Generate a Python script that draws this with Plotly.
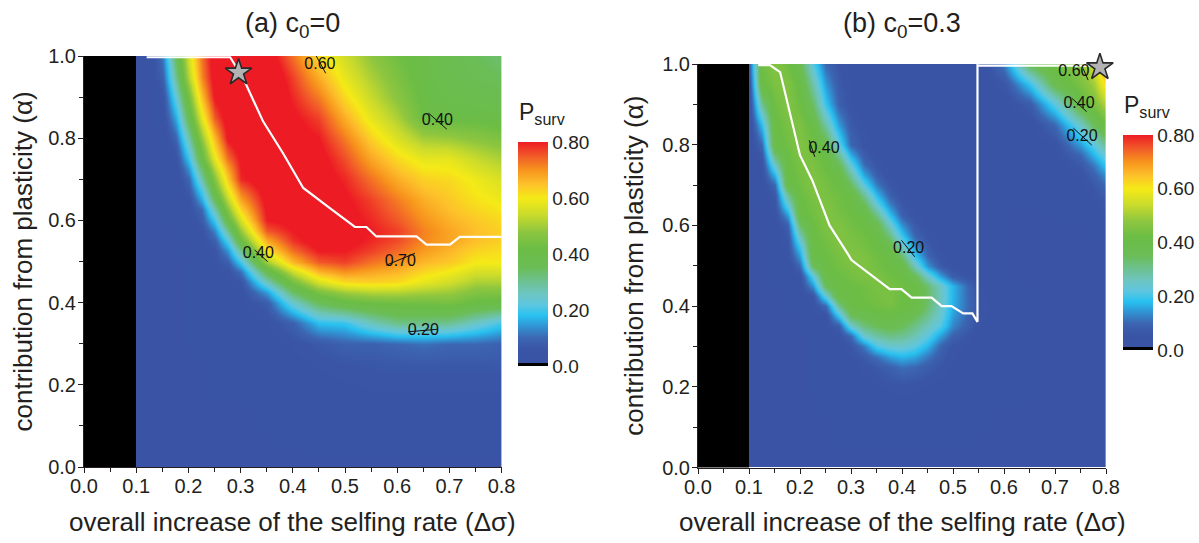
import plotly.graph_objects as go

# ---------------- data ----------------
# panel (a) c0 = 0
alpha_a = [0.0, 0.1, 0.2, 0.25, 0.3, 0.35, 0.4, 0.425, 0.45, 0.475, 0.5, 0.525, 0.55, 0.575, 0.6,
           0.625, 0.65, 0.675, 0.7, 0.725, 0.75, 0.775, 0.8, 0.85, 0.9, 0.95, 1.0]
dsig_a = [0.10, 0.125, 0.15, 0.175, 0.20, 0.225, 0.25, 0.275, 0.30, 0.35, 0.40, 0.45, 0.50, 0.55, 0.60, 0.65, 0.70, 0.75, 0.80]
psurv_a = [
    [0.015, 0.02, 0.02, 0.02, 0.02, 0.02, 0.02, 0.02, 0.02, 0.02, 0.02, 0.02, 0.02, 0.02, 0.02, 0.02, 0.02, 0.02, 0.02],
    [0.015, 0.02, 0.02, 0.02, 0.02, 0.02, 0.02, 0.02, 0.02, 0.025, 0.025, 0.03, 0.03, 0.03, 0.03, 0.03, 0.03, 0.03, 0.03],
    [0.015, 0.02, 0.02, 0.02, 0.02, 0.025, 0.025, 0.025, 0.025, 0.03, 0.035, 0.04, 0.045, 0.05, 0.05, 0.05, 0.05, 0.05, 0.05],
    [0.015, 0.02, 0.02, 0.02, 0.02, 0.025, 0.025, 0.03, 0.03, 0.03, 0.04, 0.05, 0.06, 0.065, 0.07, 0.07, 0.07, 0.07, 0.07],
    [0.015, 0.02, 0.02, 0.02, 0.025, 0.03, 0.03, 0.03, 0.03, 0.035, 0.05, 0.07, 0.09, 0.09, 0.10, 0.11, 0.10, 0.10, 0.09],
    [0.015, 0.02, 0.02, 0.02, 0.025, 0.03, 0.03, 0.03, 0.035, 0.045, 0.09, 0.18, 0.19, 0.26, 0.31, 0.31, 0.30, 0.25, 0.20],
    [0.015, 0.02, 0.02, 0.02, 0.025, 0.03, 0.035, 0.035, 0.04, 0.08, 0.24, 0.35, 0.40, 0.42, 0.43, 0.43, 0.44, 0.41, 0.40],
    [0.015, 0.02, 0.02, 0.02, 0.025, 0.03, 0.035, 0.04, 0.045, 0.15, 0.34, 0.45, 0.50, 0.52, 0.52, 0.505, 0.495, 0.46, 0.455],
    [0.015, 0.02, 0.02, 0.02, 0.025, 0.035, 0.04, 0.045, 0.06, 0.26, 0.44, 0.56, 0.62, 0.63, 0.62, 0.58, 0.55, 0.51, 0.51],
    [0.015, 0.02, 0.02, 0.02, 0.025, 0.035, 0.045, 0.05, 0.11, 0.37, 0.54, 0.66, 0.70, 0.68, 0.66, 0.62, 0.595, 0.555, 0.555],
    [0.015, 0.02, 0.02, 0.02, 0.025, 0.035, 0.05, 0.087, 0.20, 0.50, 0.66, 0.75, 0.77, 0.73, 0.70, 0.66, 0.64, 0.60, 0.60],
    [0.015, 0.02, 0.02, 0.025, 0.03, 0.035, 0.06, 0.14, 0.30, 0.60, 0.73, 0.80, 0.80, 0.77, 0.735, 0.69, 0.66, 0.625, 0.615],
    [0.015, 0.02, 0.02, 0.02, 0.03, 0.045, 0.087, 0.21, 0.41, 0.67, 0.78, 0.83, 0.82, 0.79, 0.76, 0.71, 0.68, 0.65, 0.63],
    [0.015, 0.02, 0.02, 0.025, 0.03, 0.05, 0.13, 0.30, 0.485, 0.75, 0.80, 0.83, 0.825, 0.80, 0.77, 0.715, 0.68, 0.65, 0.63],
    [0.015, 0.02, 0.025, 0.025, 0.035, 0.078, 0.20, 0.40, 0.56, 0.80, 0.82, 0.83, 0.82, 0.79, 0.75, 0.70, 0.665, 0.64, 0.62],
    [0.015, 0.02, 0.025, 0.03, 0.045, 0.10, 0.27, 0.465, 0.625, 0.81, 0.83, 0.835, 0.815, 0.78, 0.735, 0.685, 0.65, 0.625, 0.605],
    [0.015, 0.02, 0.025, 0.03, 0.05, 0.16, 0.35, 0.53, 0.68, 0.82, 0.84, 0.84, 0.81, 0.77, 0.72, 0.67, 0.64, 0.61, 0.59],
    [0.015, 0.02, 0.025, 0.03, 0.075, 0.21, 0.415, 0.585, 0.73, 0.83, 0.845, 0.835, 0.80, 0.75, 0.695, 0.65, 0.63, 0.60, 0.575],
    [0.015, 0.02, 0.025, 0.035, 0.10, 0.28, 0.47, 0.64, 0.79, 0.84, 0.85, 0.83, 0.79, 0.73, 0.67, 0.63, 0.62, 0.59, 0.56],
    [0.015, 0.02, 0.025, 0.04, 0.14, 0.335, 0.52, 0.68, 0.80, 0.845, 0.85, 0.825, 0.775, 0.705, 0.645, 0.605, 0.60, 0.565, 0.535],
    [0.015, 0.02, 0.03, 0.05, 0.19, 0.40, 0.58, 0.73, 0.81, 0.85, 0.845, 0.82, 0.76, 0.68, 0.62, 0.58, 0.58, 0.54, 0.51],
    [0.015, 0.02, 0.03, 0.07, 0.235, 0.44, 0.625, 0.77, 0.83, 0.855, 0.84, 0.81, 0.74, 0.655, 0.59, 0.54, 0.535, 0.505, 0.48],
    [0.015, 0.02, 0.03, 0.095, 0.28, 0.485, 0.66, 0.81, 0.84, 0.86, 0.83, 0.80, 0.72, 0.63, 0.56, 0.50, 0.49, 0.47, 0.45],
    [0.015, 0.02, 0.04, 0.16, 0.37, 0.575, 0.75, 0.83, 0.86, 0.87, 0.81, 0.77, 0.67, 0.58, 0.51, 0.42, 0.41, 0.41, 0.40],
    [0.015, 0.02, 0.055, 0.23, 0.44, 0.65, 0.81, 0.85, 0.87, 0.87, 0.79, 0.72, 0.62, 0.54, 0.47, 0.41, 0.39, 0.38, 0.37],
    [0.015, 0.025, 0.09, 0.30, 0.52, 0.71, 0.83, 0.86, 0.88, 0.86, 0.77, 0.67, 0.58, 0.51, 0.45, 0.40, 0.38, 0.36, 0.35],
    [0.015, 0.03, 0.12, 0.35, 0.56, 0.73, 0.84, 0.86, 0.87, 0.84, 0.73, 0.62, 0.55, 0.48, 0.43, 0.40, 0.37, 0.35, 0.33],
]

# panel (b) c0 = 0.3
alpha_b = [0.0, 0.1, 0.2, 0.25, 0.275, 0.3, 0.325, 0.35, 0.375, 0.4, 0.425, 0.45, 0.475, 0.5, 0.525,
           0.55, 0.575, 0.6, 0.625, 0.65, 0.675, 0.7, 0.725, 0.75, 0.775, 0.8, 0.85, 0.9, 0.95, 1.0]
dsig_b = [0.10, 0.125, 0.15, 0.175, 0.20, 0.225, 0.25, 0.275, 0.30, 0.325, 0.35, 0.375, 0.40, 0.425, 0.45, 0.475, 0.50, 0.55, 0.60, 0.65, 0.70, 0.75, 0.775, 0.80]
psurv_b = [
    [0.02, 0.02, 0.02, 0.02, 0.02, 0.02, 0.02, 0.02, 0.02, 0.02, 0.02, 0.02, 0.02, 0.02, 0.02, 0.02, 0.02, 0.02, 0.02, 0.02, 0.02, 0.02, 0.02, 0.02],
    [0.02, 0.02, 0.02, 0.02, 0.02, 0.02, 0.025, 0.025, 0.025, 0.025, 0.025, 0.025, 0.025, 0.025, 0.025, 0.025, 0.025, 0.025, 0.02, 0.02, 0.02, 0.02, 0.02, 0.02],
    [0.02, 0.02, 0.02, 0.02, 0.02, 0.025, 0.025, 0.03, 0.03, 0.035, 0.045, 0.05, 0.055, 0.05, 0.045, 0.04, 0.035, 0.03, 0.025, 0.025, 0.02, 0.02, 0.02, 0.02],
    [0.02, 0.02, 0.02, 0.02, 0.02, 0.025, 0.025, 0.03, 0.04, 0.055, 0.07, 0.09, 0.11, 0.10, 0.08, 0.06, 0.045, 0.03, 0.025, 0.025, 0.02, 0.02, 0.02, 0.02],
    [0.02, 0.02, 0.02, 0.02, 0.02, 0.025, 0.025, 0.035, 0.045, 0.075, 0.11, 0.15, 0.17, 0.155, 0.115, 0.075, 0.05, 0.03, 0.025, 0.025, 0.02, 0.02, 0.02, 0.02],
    [0.02, 0.02, 0.02, 0.02, 0.02, 0.025, 0.03, 0.04, 0.065, 0.12, 0.21, 0.24, 0.245, 0.22, 0.17, 0.095, 0.06, 0.035, 0.025, 0.025, 0.02, 0.02, 0.02, 0.02],
    [0.02, 0.02, 0.02, 0.02, 0.02, 0.025, 0.03, 0.05, 0.10, 0.24, 0.285, 0.31, 0.30, 0.27, 0.22, 0.15, 0.09, 0.04, 0.03, 0.025, 0.02, 0.02, 0.02, 0.02],
    [0.02, 0.02, 0.02, 0.02, 0.025, 0.03, 0.05, 0.08, 0.24, 0.32, 0.35, 0.37, 0.35, 0.31, 0.26, 0.21, 0.13, 0.05, 0.03, 0.025, 0.02, 0.02, 0.02, 0.02],
    [0.02, 0.02, 0.02, 0.02, 0.025, 0.03, 0.05, 0.19, 0.35, 0.37, 0.395, 0.41, 0.39, 0.355, 0.30, 0.235, 0.15, 0.055, 0.03, 0.025, 0.02, 0.02, 0.02, 0.02],
    [0.02, 0.02, 0.02, 0.025, 0.03, 0.05, 0.10, 0.30, 0.405, 0.42, 0.43, 0.44, 0.42, 0.405, 0.33, 0.25, 0.165, 0.06, 0.035, 0.025, 0.02, 0.02, 0.02, 0.02],
    [0.02, 0.02, 0.02, 0.025, 0.035, 0.06, 0.23, 0.405, 0.415, 0.425, 0.44, 0.445, 0.425, 0.405, 0.34, 0.255, 0.17, 0.055, 0.03, 0.025, 0.02, 0.02, 0.02, 0.02],
    [0.02, 0.02, 0.025, 0.03, 0.045, 0.14, 0.36, 0.41, 0.42, 0.43, 0.445, 0.445, 0.43, 0.405, 0.33, 0.25, 0.17, 0.05, 0.03, 0.025, 0.02, 0.02, 0.02, 0.02],
    [0.02, 0.02, 0.025, 0.03, 0.05, 0.22, 0.405, 0.42, 0.435, 0.45, 0.45, 0.43, 0.41, 0.36, 0.245, 0.15, 0.085, 0.035, 0.025, 0.02, 0.02, 0.02, 0.02, 0.02],
    [0.02, 0.02, 0.025, 0.04, 0.10, 0.35, 0.415, 0.435, 0.45, 0.455, 0.435, 0.415, 0.40, 0.26, 0.14, 0.075, 0.045, 0.03, 0.025, 0.02, 0.02, 0.02, 0.02, 0.02],
    [0.02, 0.02, 0.025, 0.05, 0.15, 0.40, 0.42, 0.44, 0.46, 0.45, 0.43, 0.41, 0.33, 0.19, 0.10, 0.055, 0.04, 0.03, 0.025, 0.02, 0.02, 0.02, 0.02, 0.02],
    [0.02, 0.02, 0.03, 0.06, 0.20, 0.41, 0.43, 0.455, 0.45, 0.44, 0.415, 0.385, 0.26, 0.14, 0.075, 0.045, 0.035, 0.03, 0.025, 0.02, 0.02, 0.02, 0.02, 0.025],
    [0.02, 0.02, 0.03, 0.07, 0.27, 0.415, 0.44, 0.46, 0.445, 0.43, 0.405, 0.31, 0.19, 0.095, 0.055, 0.04, 0.035, 0.03, 0.025, 0.02, 0.02, 0.02, 0.025, 0.03],
    [0.02, 0.025, 0.04, 0.09, 0.34, 0.42, 0.45, 0.455, 0.435, 0.415, 0.375, 0.25, 0.14, 0.075, 0.045, 0.035, 0.03, 0.025, 0.025, 0.02, 0.02, 0.025, 0.03, 0.04],
    [0.02, 0.025, 0.05, 0.15, 0.405, 0.43, 0.46, 0.44, 0.425, 0.405, 0.31, 0.185, 0.09, 0.05, 0.04, 0.035, 0.03, 0.025, 0.025, 0.02, 0.025, 0.03, 0.035, 0.05],
    [0.02, 0.03, 0.06, 0.23, 0.41, 0.44, 0.455, 0.435, 0.415, 0.36, 0.235, 0.13, 0.07, 0.045, 0.035, 0.03, 0.03, 0.025, 0.025, 0.025, 0.025, 0.03, 0.04, 0.06],
    [0.02, 0.03, 0.07, 0.30, 0.42, 0.45, 0.445, 0.43, 0.41, 0.30, 0.175, 0.09, 0.05, 0.04, 0.035, 0.03, 0.03, 0.025, 0.025, 0.025, 0.03, 0.035, 0.055, 0.08],
    [0.02, 0.04, 0.10, 0.40, 0.43, 0.46, 0.44, 0.415, 0.35, 0.225, 0.12, 0.065, 0.045, 0.035, 0.03, 0.03, 0.03, 0.025, 0.025, 0.025, 0.03, 0.04, 0.07, 0.10],
    [0.02, 0.045, 0.17, 0.41, 0.435, 0.455, 0.43, 0.405, 0.29, 0.16, 0.085, 0.045, 0.035, 0.03, 0.03, 0.03, 0.03, 0.025, 0.025, 0.025, 0.03, 0.05, 0.09, 0.14],
    [0.02, 0.05, 0.25, 0.415, 0.445, 0.45, 0.42, 0.36, 0.23, 0.11, 0.06, 0.04, 0.035, 0.03, 0.03, 0.03, 0.03, 0.025, 0.025, 0.03, 0.035, 0.07, 0.12, 0.19],
    [0.02, 0.07, 0.33, 0.42, 0.455, 0.44, 0.41, 0.30, 0.165, 0.08, 0.045, 0.035, 0.03, 0.03, 0.03, 0.03, 0.03, 0.025, 0.025, 0.03, 0.04, 0.10, 0.17, 0.24],
    [0.025, 0.10, 0.40, 0.43, 0.46, 0.43, 0.38, 0.23, 0.10, 0.06, 0.04, 0.035, 0.03, 0.03, 0.03, 0.03, 0.03, 0.025, 0.025, 0.03, 0.05, 0.15, 0.22, 0.30],
    [0.025, 0.18, 0.41, 0.445, 0.45, 0.405, 0.28, 0.15, 0.075, 0.045, 0.035, 0.03, 0.03, 0.03, 0.03, 0.03, 0.03, 0.025, 0.025, 0.035, 0.10, 0.25, 0.35, 0.42],
    [0.03, 0.30, 0.43, 0.46, 0.425, 0.34, 0.19, 0.09, 0.05, 0.04, 0.035, 0.03, 0.03, 0.03, 0.03, 0.03, 0.03, 0.025, 0.035, 0.08, 0.22, 0.40, 0.45, 0.52],
    [0.04, 0.41, 0.45, 0.455, 0.41, 0.28, 0.145, 0.075, 0.045, 0.04, 0.035, 0.03, 0.03, 0.03, 0.025, 0.025, 0.025, 0.025, 0.06, 0.19, 0.37, 0.45, 0.50, 0.62],
    [0.07, 0.43, 0.465, 0.43, 0.37, 0.22, 0.10, 0.06, 0.045, 0.04, 0.03, 0.03, 0.03, 0.025, 0.025, 0.025, 0.025, 0.03, 0.12, 0.36, 0.44, 0.48, 0.56, 0.72],
]

# non-viable zone (P = 0), bin edges
dead_dsig = [0.0, 0.1]
dead_alpha = [0.0, 1.0]
dead_p = [[0.0]]

# optimal-alpha lines (white)
opt_a_x = [0.12, 0.28, 0.305, 0.343, 0.381, 0.42, 0.471, 0.519, 0.541, 0.56, 0.637, 0.656, 0.701, 0.72, 0.80]
opt_a_y = [0.997, 0.997, 0.946, 0.841, 0.764, 0.679, 0.63, 0.584, 0.584, 0.561, 0.561, 0.541, 0.541, 0.56, 0.56]
opt_b_x = [0.118, 0.141, 0.161, 0.20, 0.224, 0.258, 0.295, 0.301, 0.376, 0.399, 0.419, 0.458, 0.478, 0.497, 0.52, 0.538, 0.548, 0.548, 0.552, 0.80]
opt_b_y = [0.997, 0.997, 0.98, 0.774, 0.712, 0.60, 0.527, 0.514, 0.442, 0.442, 0.421, 0.421, 0.40, 0.40, 0.382, 0.382, 0.361, 0.997, 0.996, 0.996]

# star markers
star_a = (0.296, 0.96)
star_b = (0.788, 0.992)

# contour labels: (text, x, y)
labels_a = [("0.60", 0.452, 0.979), ("0.40", 0.677, 0.842), ("0.40", 0.334, 0.518),
            ("0.70", 0.606, 0.500), ("0.20", 0.650, 0.332)]
labels_b = [("0.40", 0.247, 0.789), ("0.20", 0.413, 0.541), ("0.60", 0.737, 0.979),
            ("0.40", 0.747, 0.901), ("0.20", 0.753, 0.820)]
# contour-line fragments crossing the labels: (x0, y0, x1, y1)
frag_a = [(0.445, 1.0, 0.463, 0.958), (0.660, 0.861, 0.695, 0.822), (0.327, 0.528, 0.352, 0.4995),
          (0.579, 0.491, 0.634, 0.520), (0.621, 0.329, 0.676, 0.335)]
frag_b = [(0.218, 0.811, 0.229, 0.770), (0.399, 0.563, 0.425, 0.522), (0.755, 0.989, 0.765, 0.960),
          (0.733, 0.915, 0.762, 0.882), (0.736, 0.841, 0.772, 0.799)]

cbar_vals = [0.0, 0.2, 0.4, 0.6, 0.8]
cbar_text = ["0.0", "0.20", "0.40", "0.60", "0.80"]
x_ticks = [0.0, 0.1, 0.2, 0.3, 0.4, 0.5, 0.6, 0.7, 0.8]
y_ticks = [0.0, 0.2, 0.4, 0.6, 0.8, 1.0]

# ---------------- style ----------------
FONT = "Liberation Sans, Arial, Helvetica, sans-serif"
INK = "#231f20"
W, H = 1199, 543
ZMAX = 0.8
cscale = [
    [0.0, "#000000"], [0.0125, "#000000"], [0.0125, "#3a53a4"],
    [0.075, "#3a55a6"], [0.125, "#3c66b2"], [0.175, "#3192d2"],
    [0.225, "#28c1f0"], [0.275, "#5fc6df"], [0.325, "#6dc5bf"],
    [0.375, "#6dc193"], [0.44, "#6bbd56"], [0.525, "#6bbd45"],
    [0.6, "#8ec63f"], [0.675, "#cadb2c"], [0.75, "#f5ea17"],
    [0.8125, "#fdc02b"], [0.875, "#f7941d"], [0.9375, "#f15a29"],
    [1.0, "#ed1c24"],
]

# pixel geometry of the two panels
PA = dict(l=84, r=501.6, t=56, b=467)
PB = dict(l=698, r=1106, t=64, b=467.5)
CBA = dict(l=518, t=142, b=366)
CBB = dict(l=1123, t=135, b=350)


def px2x(p):
    return p / W


def px2y(p):
    return 1 - p / H


fig = go.Figure()


def add_panel(xs, ys, z, xa, ya, cb, opt_x, opt_y, star, labels, frags):
    fig.add_trace(go.Heatmap(
        x=xs, y=ys, z=z, zmin=0, zmax=ZMAX, zsmooth="best", colorscale=cscale,
        xaxis=xa, yaxis=ya, hoverinfo="skip",
        colorbar=dict(
            x=px2x(cb["l"]), xanchor="left", xpad=0, ypad=0,
            y=px2y((cb["t"] + cb["b"]) / 2), yanchor="middle",
            len=cb["b"] - cb["t"], lenmode="pixels",
            thickness=30, thicknessmode="pixels", outlinewidth=0,
            tickvals=cbar_vals, ticktext=cbar_text, ticks="",
            tickfont=dict(family=FONT, size=19, color=INK),
        ),
    ))
    fig.add_trace(go.Heatmap(
        x=dead_dsig, y=dead_alpha, z=dead_p, zmin=0, zmax=ZMAX, colorscale=cscale,
        showscale=False, xaxis=xa, yaxis=ya, hoverinfo="skip",
    ))
    fig.add_trace(go.Scatter(
        x=opt_x, y=opt_y, mode="lines", line=dict(color="white", width=2.2),
        xaxis=xa, yaxis=ya, hoverinfo="skip", showlegend=False,
    ))
    fx, fy = [], []
    for (x0, y0, x1, y1) in frags:
        fx += [x0, x1, None]
        fy += [y0, y1, None]
    fig.add_trace(go.Scatter(
        x=fx, y=fy, mode="lines", line=dict(color="#111111", width=1),
        xaxis=xa, yaxis=ya, hoverinfo="skip", showlegend=False,
    ))
    fig.add_trace(go.Scatter(
        x=[lab[1] for lab in labels], y=[lab[2] for lab in labels],
        text=[lab[0] for lab in labels], mode="text",
        textfont=dict(family=FONT, size=16, color="#111111"),
        xaxis=xa, yaxis=ya, hoverinfo="skip", showlegend=False, cliponaxis=False,
    ))
    fig.add_trace(go.Scatter(
        x=[star[0]], y=[star[1]], mode="markers",
        marker=dict(symbol="star", size=20, color="#b3b3b3", line=dict(color="#2a2a2a", width=1.6)),
        xaxis=xa, yaxis=ya, hoverinfo="skip", showlegend=False, cliponaxis=False,
    ))


add_panel(dsig_a, alpha_a, psurv_a, "x", "y", CBA, opt_a_x, opt_a_y, star_a, labels_a, frag_a)
add_panel(dsig_b, alpha_b, psurv_b, "x2", "y2", CBB, opt_b_x, opt_b_y, star_b, labels_b, frag_b)

axis_common = dict(
    showline=True, linecolor=INK, linewidth=1, ticks="outside", ticklen=5, tickwidth=1,
    tickcolor=INK, showgrid=False, zeroline=False, tickformat=".1f", automargin=False,
    tickfont=dict(family=FONT, size=20, color=INK),
)
xa_common = dict(axis_common, range=[0, 0.8], tickvals=x_ticks, ticklabelstandoff=-4,
                 minor=dict(dtick=0.05, ticks="outside", ticklen=4, tickcolor=INK, showgrid=False))
ya_common = dict(axis_common, range=[0, 1.0], tickvals=y_ticks, ticklabelstandoff=-2,
                 minor=dict(dtick=0.1, ticks="outside", ticklen=4, tickcolor=INK, showgrid=False))

fig.update_layout(
    width=W, height=H, margin=dict(l=0, r=0, t=0, b=0, autoexpand=False),
    paper_bgcolor="white", plot_bgcolor="white", showlegend=False,
    font=dict(family=FONT, color=INK),
    xaxis=dict(xa_common, domain=[px2x(PA["l"]), px2x(PA["r"])], anchor="y"),
    yaxis=dict(ya_common, domain=[px2y(PA["b"]), px2y(PA["t"])], anchor="x"),
    xaxis2=dict(xa_common, domain=[px2x(PB["l"]), px2x(PB["r"])], anchor="y2"),
    yaxis2=dict(ya_common, domain=[px2y(PB["b"]), px2y(PB["t"])], anchor="x2"),
)

ann = []
xt = "overall increase of the selfing rate (Δσ)"
yt = "contribution from plasticity (α)"
for P, title, ytx in [(PA, "(a) c<sub>0</sub>=0", 22), (PB, "(b) c<sub>0</sub>=0.3", 634)]:
    cx = (P["l"] + P["r"]) / 2
    ann.append(dict(x=px2x(cx), y=px2y(25), xref="paper", yref="paper", text=title,
                    showarrow=False, xanchor="center", yanchor="middle",
                    font=dict(family=FONT, size=27, color=INK)))
    ann.append(dict(x=px2x(cx), y=px2y(522), xref="paper", yref="paper", text=xt,
                    showarrow=False, xanchor="center", yanchor="middle",
                    font=dict(family=FONT, size=26, color=INK)))
    ann.append(dict(x=px2x(ytx), y=px2y((P["t"] + P["b"]) / 2), xref="paper", yref="paper", text=yt,
                    showarrow=False, xanchor="center", yanchor="middle", textangle=-90,
                    font=dict(family=FONT, size=26, color=INK)))
for cb in (CBA, CBB):
    ann.append(dict(x=px2x(cb["l"] - 1), y=px2y(cb["t"] - 12), xref="paper", yref="paper",
                    text="P<sub>surv</sub>", showarrow=False, xanchor="left", yanchor="bottom",
                    font=dict(family=FONT, size=23, color=INK)))
fig.update_layout(annotations=ann)

fig.write_html("out.html")
